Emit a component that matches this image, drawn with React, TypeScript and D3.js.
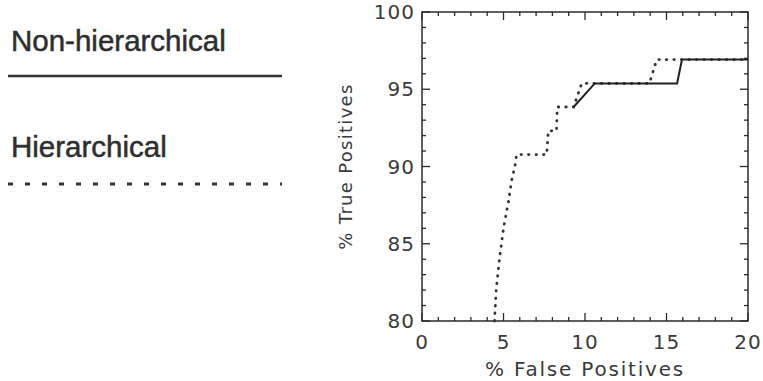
import React, { useEffect, useRef } from 'react';
import * as d3 from 'd3';

// Non-hierarchical (solid)
const nonHierFP = [9.3, 10.6, 15.65, 15.95, 20];
const nonHierTP = [93.85, 95.38, 95.38, 96.92, 96.92];

// Hierarchical (dotted)
const hierFP = [4.45, 4.55, 4.75, 5.0, 5.3, 5.5, 5.7, 5.8, 7.65, 7.75, 8.25, 8.3, 9.3, 9.8, 13.95, 14.4, 20];
const hierTP = [80, 82, 84, 86, 87.7, 89.1, 90, 90.77, 90.77, 92.31, 92.31, 93.85, 93.85, 95.38, 95.38, 96.92, 96.92];

const xTicks = [0, 5, 10, 15, 20];
const yTicks = [80, 85, 90, 95, 100];
const legendLabels = ['Non-hierarchical', 'Hierarchical'];

export default function App() {
  const ref = useRef<SVGSVGElement>(null);

  useEffect(() => {
    const W = 763, H = 381;
    const left = 422, right = 748, top = 12, bottom = 321;
    const ink = '#2a2a2a';
    const svg = d3.select(ref.current).attr('width', W).attr('height', H);
    svg.selectAll('*').remove();

    const x = d3.scaleLinear().domain([0, 20]).range([left, right]);
    const y = d3.scaleLinear().domain([80, 100]).range([bottom, top]);

    // legend
    const lg = svg.append('g').attr('font-family', 'Liberation Sans, Arial, sans-serif')
      .attr('font-size', 29.5).attr('fill', '#2e2e2e')
      .attr('stroke', '#2e2e2e').attr('stroke-width', 0.5);
    lg.append('text').attr('x', 11).attr('y', 51).text(legendLabels[0]);
    lg.append('text').attr('x', 11).attr('y', 157).text(legendLabels[1]);
    svg.append('line').attr('x1', 8).attr('x2', 282).attr('y1', 76).attr('y2', 76)
      .attr('stroke', '#333').attr('stroke-width', 2.5);
    svg.append('line').attr('x1', 8).attr('x2', 282).attr('y1', 184).attr('y2', 184)
      .attr('stroke', '#333').attr('stroke-width', 3).attr('stroke-dasharray', '5 12');

    // frame
    svg.append('rect').attr('x', left).attr('y', top)
      .attr('width', right - left).attr('height', bottom - top)
      .attr('fill', 'none').attr('stroke', ink).attr('stroke-width', 1.5);

    const minorX = d3.range(0, 21, 1);
    const minorY = d3.range(80, 101, 1);
    const tk = svg.append('g').attr('stroke', ink).attr('stroke-width', 1.3);
    minorX.forEach(v => {
      const len = v % 5 === 0 ? 8 : 4;
      tk.append('line').attr('x1', x(v)).attr('x2', x(v)).attr('y1', bottom).attr('y2', bottom - len);
      tk.append('line').attr('x1', x(v)).attr('x2', x(v)).attr('y1', top).attr('y2', top + len);
    });
    minorY.forEach(v => {
      const len = v % 5 === 0 ? 8 : 4;
      tk.append('line').attr('x1', left).attr('x2', left + len).attr('y1', y(v)).attr('y2', y(v));
      tk.append('line').attr('x1', right).attr('x2', right - len).attr('y1', y(v)).attr('y2', y(v));
    });

    // tick labels
    const lab = svg.append('g').attr('font-family', 'DejaVu Sans, sans-serif')
      .attr('font-size', 20).attr('fill', '#3a3a3a').attr('letter-spacing', 1);
    lab.selectAll('.xl').data(xTicks).join('text').attr('class', 'xl')
      .attr('x', d => x(d)).attr('y', 349).attr('text-anchor', 'middle').text(d => d);
    lab.selectAll('.yl').data(yTicks).join('text').attr('class', 'yl')
      .attr('x', left - 7).attr('y', d => y(d) + 7).attr('text-anchor', 'end').text(d => d);

    lab.append('text').attr('x', (left + right) / 2).attr('y', 376)
      .attr('text-anchor', 'middle').attr('letter-spacing', 1.8).text('% False Positives');
    lab.append('text').attr('transform', `translate(352,${(top + bottom) / 2}) rotate(-90)`)
      .attr('text-anchor', 'middle').attr('font-size', 18).attr('letter-spacing', 1.3)
      .text('% True Positives');

    // curves
    const line = d3.line<number>();
    const hierPts = hierFP.map((v, i) => [x(v), y(hierTP[i])] as [number, number]);
    const nonPts = nonHierFP.map((v, i) => [x(v), y(nonHierTP[i])] as [number, number]);
    svg.append('path').attr('d', line(hierPts as any))
      .attr('fill', 'none').attr('stroke', '#333').attr('stroke-width', 2.8)
      .attr('stroke-linecap', 'round').attr('stroke-dasharray', '0.5 7');
    svg.append('path').attr('d', line(nonPts as any))
      .attr('fill', 'none').attr('stroke', '#222').attr('stroke-width', 2);
  }, []);

  return (
    <div style={{ position: 'absolute', left: 0, top: 0 }}>
      <svg ref={ref} style={{ display: 'block', background: '#fff' }} />
    </div>
  );
}
